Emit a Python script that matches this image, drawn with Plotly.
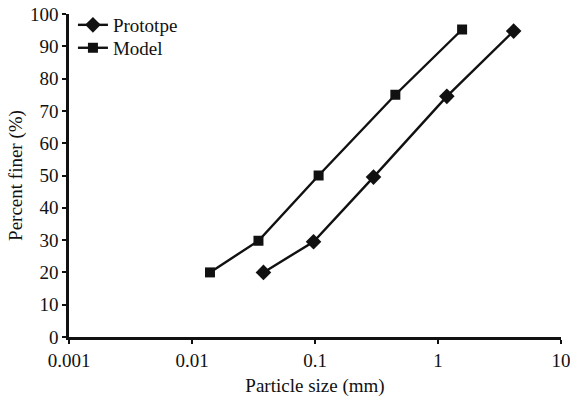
import plotly.graph_objects as go

size_prototype = [0.0381, 0.0973, 0.299, 1.18, 4.12]
finer_prototype = [20, 29.5, 49.5, 74.5, 94.7]
size_model = [0.0140, 0.0347, 0.107, 0.450, 1.57]
finer_model = [20, 29.8, 50, 75, 95.2]
x_ticks = [0.001, 0.01, 0.1, 1, 10]
x_tick_labels = ["0.001", "0.01", "0.1", "1", "10"]
y_ticks = list(range(0, 101, 10))

FONT = "Liberation Serif, Times New Roman, serif"
INK = "#111111"

fig = go.Figure()
fig.add_trace(go.Scatter(
    x=size_prototype, y=finer_prototype, name="Prototpe", mode="lines+markers",
    line=dict(color=INK, width=2.4), legend="legend",
    marker=dict(symbol="diamond", size=12, color=INK)))
fig.add_trace(go.Scatter(
    x=size_model, y=finer_model, name="Model", mode="lines+markers",
    line=dict(color=INK, width=2.4), legend="legend2",
    marker=dict(symbol="square", size=10, color=INK)))

legend_common = dict(xanchor="left", yanchor="middle", bgcolor="rgba(0,0,0,0)",
                     font=dict(size=19, family=FONT, color=INK), itemwidth=30)

fig.update_layout(
    width=570, height=398,
    margin=dict(l=69, r=9, t=14, b=61, autoexpand=False),
    paper_bgcolor="white", plot_bgcolor="white",
    font=dict(family=FONT, size=18, color=INK),
    showlegend=True,
    legend=dict(x=0.008, y=0.966, **legend_common),
    legend2=dict(x=0.008, y=0.895, **legend_common),
    xaxis=dict(type="log", range=[-3, 1], tickvals=x_ticks, ticktext=x_tick_labels,
               showgrid=False, zeroline=False, showline=True, linecolor=INK, linewidth=2.5,
               ticks="outside", ticklen=4, tickwidth=2, tickcolor=INK,
               tickfont=dict(size=19), automargin=False, ticklabeloverflow="allow",
               title=dict(text="Particle size (mm)", font=dict(size=19), standoff=10)),
    yaxis=dict(range=[0, 100], tickvals=y_ticks,
               showgrid=False, zeroline=False, showline=True, linecolor=INK, linewidth=2.5,
               ticks="outside", ticklen=4, tickwidth=2, tickcolor=INK,
               tickfont=dict(size=19), automargin=False, ticklabeloverflow="allow",
               title=dict(text="Percent finer (%)", font=dict(size=19), standoff=3)),
)
fig.write_html("out.html", config={"displayModeBar": False},
               post_script="document.body.style.margin='0px';")
